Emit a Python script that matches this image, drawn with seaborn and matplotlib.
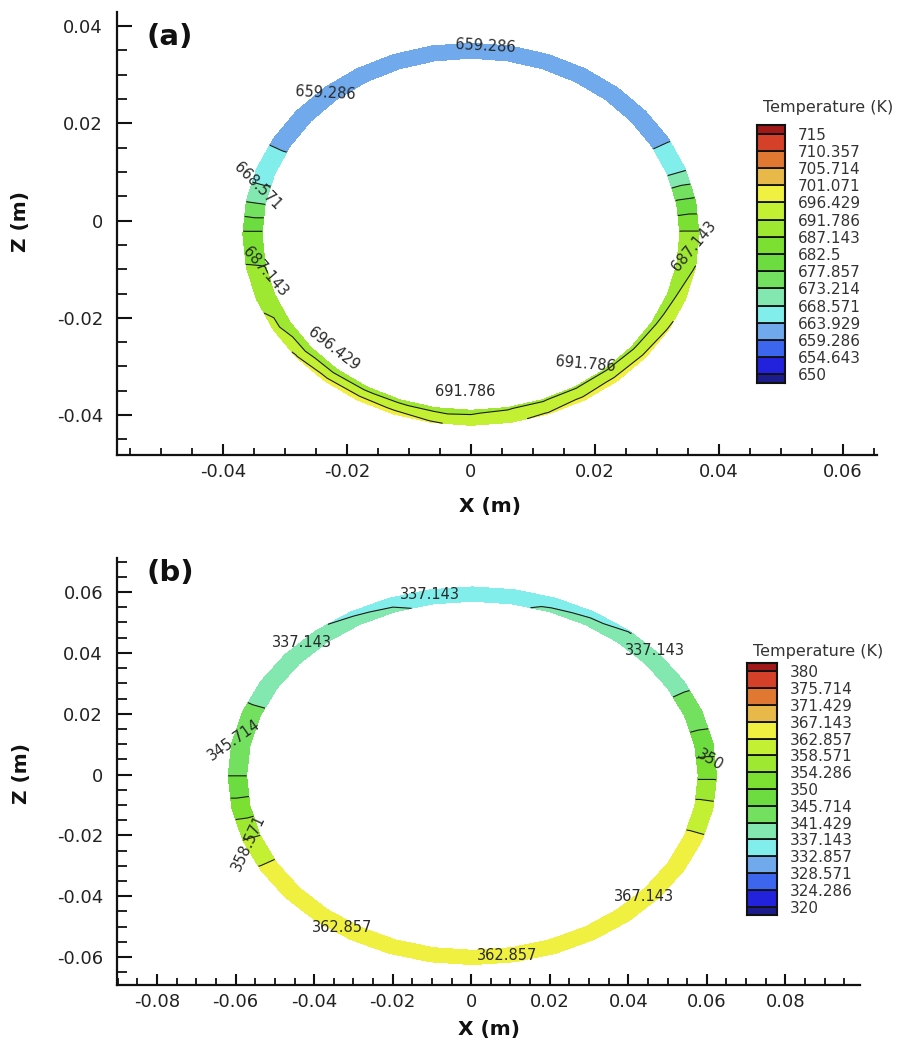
import numpy as np
import matplotlib
matplotlib.use("Agg")
import matplotlib.pyplot as plt
import matplotlib.tri as mtri
from matplotlib.ticker import MultipleLocator, FuncFormatter
import seaborn as sns

# ---------------- data ----------------
theta_deg = [0, 10, 20, 30, 40, 50, 60, 70, 80, 90, 100, 110, 120, 130, 140, 150, 160, 170,
             180, 190, 200, 210, 220, 230, 240, 250, 260, 270, 280, 290, 300, 310, 320, 330, 340, 350]

# panel (a): temperature on outer / inner edge of the tube wall (K)
T_outer_a = [688, 679, 668, 663.5, 662, 661.5, 661.5, 661.5, 661.5, 661.5, 661.5, 661.5, 661.5, 661.5,
             662, 663.5, 665.5, 673, 683.5, 687.5, 690, 694, 697, 698.5, 699, 698.5, 697, 695,
             696, 697, 698, 698.5, 698, 697, 695, 692]
T_inner_a = [688, 679, 668, 663.5, 662, 661.5, 661.5, 661.5, 661.5, 661.5, 661.5, 661.5, 661.5, 661.5,
             662, 663.5, 665.5, 673, 683.5, 687, 687.5, 688, 688.5, 689, 689.5, 690, 690, 690.5,
             691, 691, 691, 691, 690.5, 690, 689, 688]

# panel (b)
T_outer_b = [353.5, 347.5, 343.5, 340.5, 339, 337, 336, 335.5, 335, 335, 335, 335.5, 336.5, 337.5,
             339.5, 340.5, 341.8, 343.5, 345.7, 352, 358.6, 363.5, 364, 364.5, 364.5, 364.5, 364.5, 364.5,
             364.5, 365, 365, 365, 364.5, 364, 363.5, 360]
T_inner_b = [353.5, 347.5, 343.5, 340.5, 339, 339, 338.5, 337.8, 336.5, 335.5, 336, 338, 338.5, 339,
             339.5, 340.5, 341.8, 343.5, 345.7, 352, 358.6, 363.5, 364, 364.5, 364.5, 364.5, 364.5, 364.5,
             364.5, 365, 365, 365, 364.5, 364, 363.5, 360]

levels_a = [650, 654.643, 659.286, 663.929, 668.571, 673.214, 677.857, 682.5, 687.143,
            691.786, 696.429, 701.071, 705.714, 710.357, 715]
levels_b = [320, 324.286, 328.571, 332.857, 337.143, 341.429, 345.714, 350, 354.286,
            358.571, 362.857, 367.143, 371.429, 375.714, 380]

# legend / flood colours, bottom (below min) to top (above max)
band_colors = ["#1c1c8c", "#2222dc", "#3d66ee", "#70a9ec", "#82eeec", "#82e8b0", "#74e060",
               "#6cdc40", "#7ce032", "#9ee832", "#c4f034", "#f0f040", "#e8b848", "#e07832",
               "#d44028", "#a01818"]

# contour labels
lab_text_a = ["659.286", "659.286", "668.571", "687.143", "696.429", "691.786", "691.786", "687.143"]
lab_x_a = [0.0024, -0.0235, -0.0344, -0.0332, -0.0221, -0.0010, 0.0185, 0.0360]
lab_z_a = [0.0358, 0.0263, 0.0070, -0.0105, -0.0265, -0.0351, -0.0296, -0.0053]
lab_rot_a = [-3, -3, -45, -49, -38, 0, -5, 50]

lab_text_b = ["337.143", "337.143", "337.143", "345.714", "358.571", "350", "367.143", "362.857", "362.857"]
lab_x_b = [-0.0104, -0.0431, 0.0467, -0.0604, -0.0568, 0.0609, 0.0441, -0.0329, 0.0092]
lab_z_b = [0.0592, 0.0434, 0.0408, 0.0115, -0.0224, 0.0049, -0.0401, -0.0503, -0.0595]
lab_rot_b = [0, 0, 0, 35, 65, -30, 0, 0, 0]

# ---------------- style ----------------
sns.set_style("ticks")
plt.rcParams['font.family'] = ['DejaVu Sans']
plt.rcParams['axes.unicode_minus'] = False

W, H = 914, 1052
fig = plt.figure(figsize=(W / 100, H / 100), dpi=100)
fig.patch.set_facecolor("white")


def px_axes(x0, y0, x1, y1):
    return fig.add_axes([x0 / W, 1 - y1 / H, (x1 - x0) / W, (y1 - y0) / H])


def ring_tri(cx, cz, ax_out, bz_out, thick_x, thick_z):
    t = np.deg2rad(np.asarray(theta_deg, dtype=float))
    n = len(t)
    xo = cx + ax_out * np.cos(t)
    zo = cz + bz_out * np.sin(t)
    xi = cx + (ax_out - thick_x) * np.cos(t)
    zi = cz + (bz_out - thick_z) * np.sin(t)
    x = np.concatenate([xo, xi])
    z = np.concatenate([zo, zi])
    tris = []
    for i in range(n):
        j = (i + 1) % n
        tris.append([i, j, n + i])
        tris.append([j, n + j, n + i])
    return mtri.Triangulation(x, z, np.array(tris))


fmt = FuncFormatter(lambda v, p: f"{round(v, 4) + 0.0:g}")


def style_axes(ax, xlim, ylim):
    ax.set_xlim(*xlim)
    ax.set_ylim(*ylim)
    sns.despine(ax=ax)
    for s in ("left", "bottom"):
        ax.spines[s].set_linewidth(1.6)
        ax.spines[s].set_color("#111111")
    ax.xaxis.set_major_locator(MultipleLocator(0.02))
    ax.xaxis.set_minor_locator(MultipleLocator(0.005))
    ax.yaxis.set_major_locator(MultipleLocator(0.02))
    ax.yaxis.set_minor_locator(MultipleLocator(0.005))
    ax.xaxis.set_major_formatter(fmt)
    ax.yaxis.set_major_formatter(fmt)
    ax.tick_params(axis="x", which="major", direction="in", length=8, width=1.5, pad=6,
                   labelsize=13, labelcolor="#222222", color="#111111")
    ax.tick_params(axis="x", which="minor", direction="in", length=5, width=1.3, color="#111111")
    ax.tick_params(axis="y", which="major", direction="in", length=11, width=1.5, pad=10,
                   labelsize=13, labelcolor="#222222", color="#111111")
    ax.tick_params(axis="y", which="minor", direction="in", length=7, width=1.3, color="#111111")
    ax.set_facecolor("white")


def draw_panel(ax, tri, T, levels, texts, xs, zs, rots):
    ax.tricontourf(tri, T, levels=levels, colors=band_colors, extend="both")
    ax.tricontour(tri, T, levels=levels, colors="#1a1a1a", linewidths=0.8)
    for s, x, z, r in zip(texts, xs, zs, rots):
        ax.text(x, z, s, rotation=r, rotation_mode="anchor", ha="center", va="center",
                fontsize=10.5, color="#2a2a2a")


def draw_legend(lax, levels, title, ty):
    step = levels[1] - levels[0]
    edges = [levels[0] - step / 2] + list(levels) + [levels[-1] + step / 2]
    lax.bar([0] * (len(edges) - 1), np.diff(edges), bottom=edges[:-1], width=1, align="edge",
            color=band_colors, edgecolor="#111111", linewidth=1.3)
    lax.set_xlim(0, 1)
    lax.set_ylim(edges[0], edges[-1])
    lax.set_xticks([])
    lax.yaxis.tick_right()
    lax.set_yticks(levels)
    lax.set_yticklabels([f"{v:g}" for v in levels])
    lax.tick_params(axis="y", length=0, pad=9, labelsize=11, labelcolor="#333333")
    for s in lax.spines.values():
        s.set_linewidth(1.5)
        s.set_color("#111111")
    lax.text(0.2, ty, title, transform=lax.transAxes, ha="left", va="center",
             fontsize=11.5, color="#333333", clip_on=False)


# ---------------- panel (a) ----------------
ax_a = px_axes(117, 12, 877, 455)
style_axes(ax_a, (-0.0571, 0.0655), (-0.0482, 0.0429))
tri_a = ring_tri(0.0, -0.0028, 0.0368, 0.0393, 0.0031, 0.0031)
draw_panel(ax_a, tri_a, np.array(T_outer_a + T_inner_a), levels_a,
           lab_text_a, lab_x_a, lab_z_a, lab_rot_a)
ax_a.set_xlabel("X (m)", fontsize=14.5, fontweight="bold", color="#111111")
ax_a.set_ylabel("Z (m)", fontsize=14.5, fontweight="bold", color="#111111")
ax_a.xaxis.set_label_coords(0.491, -0.095)
ax_a.yaxis.set_label_coords(-0.114, 0.528)
ax_a.text(0.039, 0.944, "(a)", transform=ax_a.transAxes, fontsize=21, fontweight="bold",
          ha="left", va="center", color="#111111")

leg_a = px_axes(757, 125, 785, 383)
draw_legend(leg_a, levels_a, "Temperature (K)", 1.066)

# ---------------- panel (b) ----------------
ax_b = px_axes(117, 558, 860, 985)
style_axes(ax_b, (-0.0902, 0.099), (-0.0692, 0.0712))
tri_b = ring_tri(0.0003, -0.0004, 0.0622, 0.0621, 0.0047, 0.0047)
draw_panel(ax_b, tri_b, np.array(T_outer_b + T_inner_b), levels_b,
           lab_text_b, lab_x_b, lab_z_b, lab_rot_b)
ax_b.set_xlabel("X (m)", fontsize=14.5, fontweight="bold", color="#111111")
ax_b.set_ylabel("Z (m)", fontsize=14.5, fontweight="bold", color="#111111")
ax_b.xaxis.set_label_coords(0.5, -0.082)
ax_b.yaxis.set_label_coords(-0.116, 0.496)
ax_b.text(0.040, 0.965, "(b)", transform=ax_b.transAxes, fontsize=21, fontweight="bold",
          ha="left", va="center", color="#111111")

leg_b = px_axes(747, 663, 777, 915)
draw_legend(leg_b, levels_b, "Temperature (K)", 1.045)

fig.savefig("out.png", dpi=100, facecolor="white")
